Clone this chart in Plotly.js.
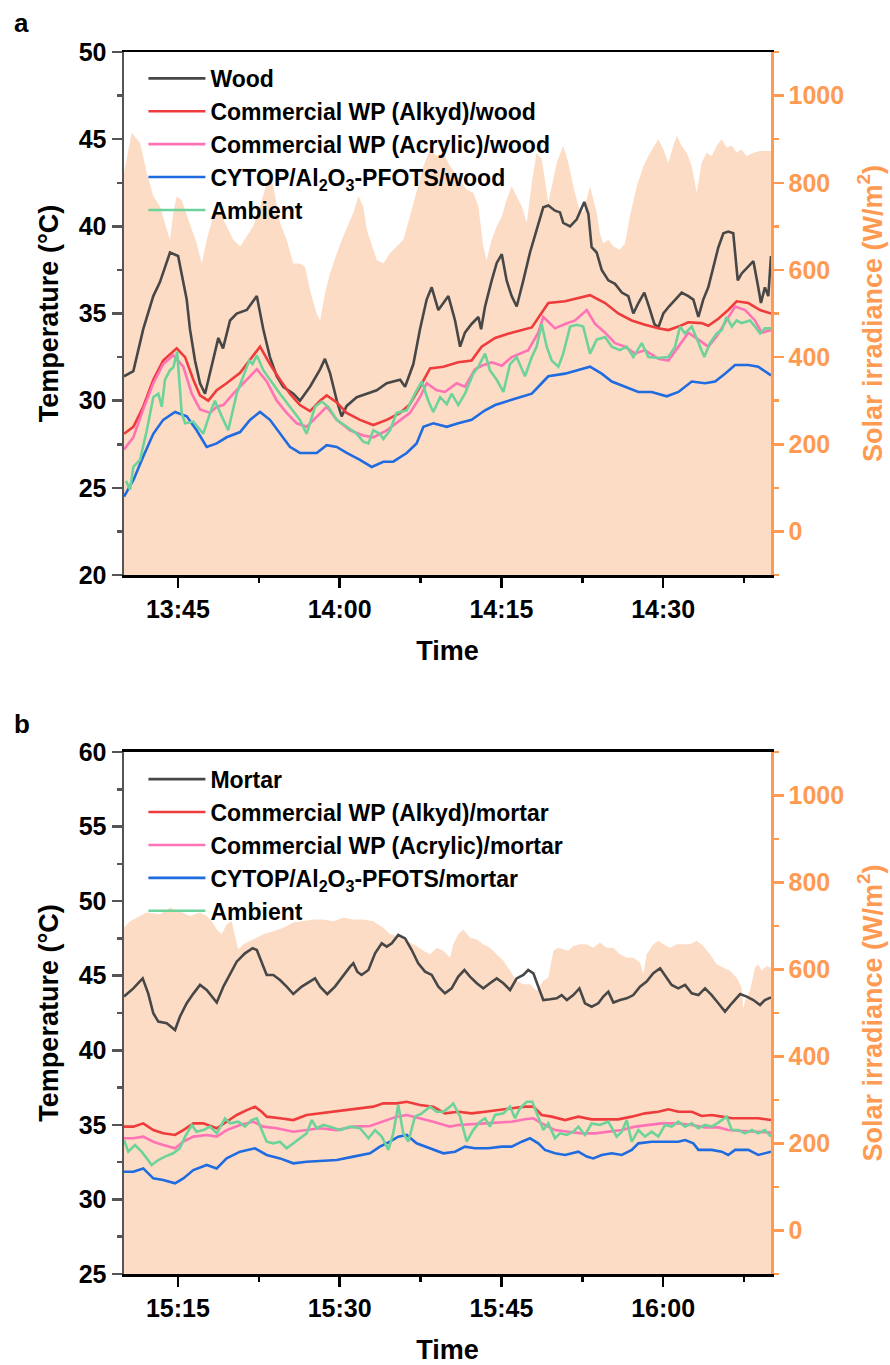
<!DOCTYPE html>
<html>
<head>
<meta charset="utf-8">
<script src="https://cdn.plot.ly/plotly-3.0.1.min.js"></script>
<style>html,body{margin:0;padding:0;background:#fff;}#chart{width:890px;height:1365px;}</style>
</head>
<body>
<div id="chart"></div>
<script>
// ---------------- Panel a (wood), minutes after 13:40 ----------------
const aWoodTime = [0,0.86,1.79,2.72,3.34,4.27,5.01,5.81,6.12,6.58,7.05,7.51,8.75,9.18,9.83,10.45,11.38,12.31,12.92,13.54,14.16,14.77,15.70,16.32,17.25,18.18,18.64,19.10,19.73,20.19,20.65,21.58,22.51,23.44,24.36,25.60,26.06,26.83,27.45,28.07,28.54,29.15,30.08,30.70,31.16,31.62,32.24,32.86,33.11,33.48,34.10,34.56,35.03,35.49,35.95,36.42,37.03,37.65,38.27,38.89,39.35,39.97,40.43,40.74,41.36,41.98,42.69,43.06,43.37,43.84,44.30,44.91,45.53,46.16,46.77,47.23,47.70,48.25,48.69,49.18,49.55,50.01,50.54,51.10,51.72,52.33,52.80,53.26,53.72,54.19,54.65,55.11,55.58,56.04,56.50,56.91,57.28,57.90,58.36,58.82,59.07,59.44,59.75,60.0];
const aWood = [31.4,31.7,34.1,36.0,36.8,38.5,38.3,35.8,34.1,32.3,31.0,30.4,33.6,33.0,34.6,35.0,35.2,36.0,34.1,32.5,31.4,30.8,30.4,30.0,30.8,31.8,32.4,31.6,30.0,29.1,29.7,30.2,30.4,30.6,31.0,31.2,30.8,32.1,34.1,35.8,36.5,35.2,36.0,34.6,33.1,33.9,34.4,34.8,34.1,35.4,36.9,37.9,38.4,36.9,36.0,35.4,36.9,38.5,39.8,41.1,41.2,40.9,40.8,40.2,40.0,40.4,41.4,40.7,38.8,38.5,37.5,36.9,36.7,36.2,36.0,35.0,35.6,36.2,35.4,34.4,34.2,35.0,35.4,35.8,36.2,36.0,35.8,34.8,35.8,36.5,37.7,38.8,39.6,39.7,39.6,36.9,37.3,37.7,38.0,36.5,35.6,36.5,36.0,38.3];

const aAlkydTime = [0,0.86,1.79,2.72,3.64,4.89,5.66,6.43,7.05,7.82,8.60,9.52,10.76,11.84,12.61,13.54,14.47,15.39,16.32,17.25,18.18,18.80,19.73,20.65,21.89,23.12,24.36,25.60,26.52,27.45,28.38,29.61,31.00,32.24,33.17,34.41,35.95,37.81,38.74,39.35,40.90,42.13,43.22,44.61,45.84,47.08,48.32,49.55,50.48,51.41,52.33,53.57,54.19,55.11,56.04,56.82,57.90,58.98,60];
const aAlkyd = [28.1,28.5,29.65,31.2,32.3,33.0,32.5,31.2,30.3,30.0,30.6,31.0,31.6,32.5,33.1,32.1,31.2,30.4,29.75,29.4,30.0,30.3,29.9,29.3,28.9,28.6,28.9,29.3,29.8,30.8,31.85,31.95,32.2,32.3,33.1,33.6,33.9,34.2,35.0,35.6,35.7,35.9,36.05,35.6,35.0,34.6,34.35,34.15,34.05,34.25,34.5,34.45,34.3,34.7,35.2,35.7,35.6,35.2,35.0];

const aAcrylicTime = [0,0.86,1.79,2.72,3.64,4.57,5.50,6.28,7.05,7.98,8.60,9.21,10.14,11.38,12.31,13.23,14.16,15.09,16.02,16.94,17.87,18.80,19.73,20.96,22.19,23.12,24.36,25.60,26.52,27.45,28.07,29.00,29.77,30.85,31.62,32.55,33.17,34.10,35.03,35.95,37.49,38.42,38.89,39.97,40.90,41.83,42.91,43.68,44.61,45.53,46.46,47.39,48.32,49.55,50.48,51.41,52.33,53.26,54.19,54.97,55.89,56.67,57.60,58.52,59.14,60];
const aAcrylic = [27.2,27.9,29.5,31.0,32.1,32.6,31.95,30.4,29.5,29.3,29.65,29.75,30.4,31.2,31.8,31.1,30.0,29.3,28.7,28.5,29.1,29.65,28.9,28.3,28.0,27.9,28.3,28.9,29.3,30.2,31.0,30.6,30.5,31.0,30.8,31.8,32.0,32.2,32.0,32.5,32.9,33.9,34.8,34.15,34.4,34.6,35.2,34.4,33.9,33.3,33.1,32.7,32.9,32.4,32.3,33.1,33.9,33.5,33.1,33.7,34.6,35.4,35.2,34.6,33.9,34.05];

const aCytopTime = [0,0.86,1.79,2.72,3.64,4.73,5.81,6.74,7.67,8.60,9.52,10.76,11.68,12.61,13.54,14.47,15.39,16.32,17.87,18.80,19.73,20.65,21.89,22.97,24.05,24.97,26.22,27.14,27.76,28.68,29.93,31.00,32.24,33.48,34.41,35.95,37.81,38.74,39.35,40.90,42.13,43.22,44.30,45.23,46.46,47.70,48.94,50.33,51.41,52.65,53.88,54.81,55.74,56.67,57.90,58.82,60];
const aCytop = [24.5,25.44,26.8,28.1,28.9,29.35,29.1,28.3,27.35,27.55,27.9,28.2,28.9,29.35,28.9,28.1,27.35,27.0,27.0,27.45,27.35,27.0,26.6,26.2,26.5,26.5,27.0,27.55,28.5,28.7,28.5,28.7,28.9,29.45,29.75,30.05,30.4,31.0,31.4,31.55,31.75,31.95,31.55,31.1,30.8,30.5,30.5,30.25,30.5,31.1,31.0,31.1,31.55,32.05,32.05,31.95,31.45];

const aAmbientTime = [0.19,0.56,0.86,1.48,2.11,2.72,3.18,3.50,3.80,4.27,4.57,4.94,5.35,5.66,6.43,7.35,7.98,8.44,9.06,9.67,10.45,11.22,11.62,11.92,12.31,12.92,13.54,14.47,15.39,16.32,16.94,17.71,18.33,18.95,19.73,20.65,21.58,22.19,22.66,23.12,23.74,24.05,24.67,25.29,26.22,26.99,27.61,28.22,28.68,29.31,29.93,30.39,31.00,31.62,32.39,32.86,33.48,33.94,34.56,35.18,35.80,36.42,37.19,37.81,38.27,38.74,39.20,39.66,40.28,40.74,41.36,41.98,42.59,43.22,43.84,44.61,45.23,45.99,46.61,47.23,48.01,48.63,49.55,50.48,51.10,51.56,52.02,52.65,53.26,53.81,54.34,54.97,55.43,55.89,56.36,56.82,57.28,58.05,58.52,58.98,59.44,60];
const aAmbient = [25.4,24.9,26.2,26.6,28.3,30.2,30.4,29.65,31.2,31.75,31.9,32.8,29.3,28.7,28.8,28.1,29.3,30.0,29.1,28.3,30.4,31.6,32.3,32.1,32.6,31.75,31.2,30.4,29.65,28.9,28.1,29.65,29.95,29.65,28.9,28.5,28.1,27.65,27.55,28.3,28.1,27.8,28.3,29.3,29.45,30.4,31.1,30.0,29.35,30.2,29.8,30.4,29.75,30.4,31.55,31.95,32.7,31.75,31.2,30.5,32.1,32.5,31.4,32.5,33.1,34.4,33.1,32.3,31.95,32.7,34.25,34.35,34.25,32.7,33.5,33.65,33.1,32.9,33.1,32.5,33.3,32.5,32.45,32.5,33.1,34.25,33.85,34.25,33.3,32.5,33.3,33.85,34.05,34.8,34.25,34.6,34.45,34.6,34.25,33.85,34.15,34.15];

const aSolarTime = [0,0.71,1.48,2.11,2.72,3.34,3.96,4.27,4.57,4.89,5.35,5.96,6.74,7.21,7.67,8.28,8.90,9.52,10.14,10.76,11.38,11.99,12.61,13.23,13.54,13.85,14.47,15.09,15.70,16.32,16.79,17.25,17.87,18.18,18.64,19.10,19.73,20.34,21.27,21.73,22.19,22.51,23.44,24.05,24.67,25.29,25.90,26.52,27.14,27.76,28.38,29.00,29.61,30.23,31.16,31.78,32.39,32.86,33.32,33.64,34.10,34.56,35.03,35.49,35.95,36.42,36.88,37.35,37.81,38.27,38.74,39.04,39.35,39.66,40.13,40.74,41.20,41.67,42.13,42.59,43.22,43.84,44.14,44.45,44.91,45.38,45.99,46.46,46.92,47.55,48.16,48.78,49.55,50.01,50.48,50.94,51.26,51.72,52.18,52.65,53.11,53.57,54.04,54.50,54.97,55.43,55.89,56.36,56.82,57.28,57.74,58.36,58.98,60];
const aSolar = [823,915,892,823,769,746,692,669,731,769,760,715,661,615,669,723,731,700,669,654,677,700,746,800,815,792,708,669,615,615,607,554,500,484,546,592,638,677,731,769,746,692,623,615,638,654,669,723,777,838,877,861,869,838,807,784,777,746,654,623,669,700,723,761,792,769,746,708,800,869,854,807,754,792,846,885,846,792,746,731,792,731,684,661,669,654,646,661,723,792,838,869,900,877,846,885,907,885,869,838,777,846,869,861,885,900,881,885,869,877,861,869,873,873];

// ---------------- Panel b (mortar), minutes after 15:10 ----------------
const bMortarTime = [0,0.86,1.73,2.25,2.72,3.18,3.96,4.73,5.19,5.81,6.43,7.05,7.67,8.13,8.60,9.21,9.83,10.45,11.22,11.94,12.31,12.77,13.23,13.85,14.47,15.09,15.70,16.48,17.25,17.71,18.18,18.85,19.57,20.34,20.96,21.27,21.64,22.04,22.66,23.28,23.90,24.36,24.83,25.44,26.06,26.68,27.29,27.91,28.54,29.15,29.77,30.39,31.00,31.56,32.09,32.71,33.32,33.94,34.56,35.18,35.80,36.42,37.03,37.49,37.96,38.42,38.89,39.51,40.13,40.59,41.06,41.67,42.23,42.75,43.37,43.99,44.45,44.91,45.38,46.00,46.62,47.23,47.85,48.47,49.09,49.71,50.17,50.79,51.40,52.03,52.65,53.26,53.88,54.50,55.11,55.74,56.36,57.13,57.75,58.36,58.98,59.44,60];
const bMortar = [43.6,44.15,44.82,43.8,42.48,41.92,41.81,41.36,42.25,43.15,43.8,44.38,44.04,43.6,43.2,44.27,45.16,45.94,46.5,46.84,46.72,45.83,45.05,45.05,44.71,44.27,43.77,44.27,44.6,44.82,44.27,43.77,44.27,45.05,45.61,45.83,45.27,45.05,45.38,46.5,47.17,46.95,47.17,47.73,47.5,46.72,45.83,45.27,45.05,44.27,43.82,44.15,44.94,45.38,44.94,44.49,44.15,44.49,44.82,44.49,44.04,44.82,45.05,45.38,45.16,44.27,43.37,43.42,43.48,43.7,43.37,43.7,44.15,43.15,42.92,43.15,43.6,43.93,43.2,43.37,43.48,43.7,44.27,44.6,45.16,45.5,45.05,44.38,44.15,44.38,43.82,43.7,44.15,43.7,43.15,42.59,43.15,43.77,43.6,43.37,43.04,43.37,43.55];

const bAlkydTime = [0,0.86,1.79,2.72,3.64,4.73,5.50,6.43,7.35,8.60,9.52,10.45,11.38,12.15,12.77,13.23,14.47,15.70,16.94,18.18,19.41,20.65,21.89,23.12,24.05,25.29,26.22,27.45,28.68,29.77,31.00,32.24,33.48,34.71,35.95,37.19,37.96,38.74,39.66,40.90,42.13,43.37,44.61,45.84,47.08,48.32,49.55,50.48,51.41,52.65,53.57,54.50,55.43,56.36,57.59,58.82,60];
const bAlkyd = [34.88,34.88,35.1,34.65,34.43,34.32,34.65,35.1,35.1,34.77,35.21,35.66,35.99,36.22,35.88,35.55,35.44,35.32,35.66,35.77,35.88,35.99,36.11,36.22,36.44,36.44,36.55,36.33,36.22,35.77,35.88,35.77,35.88,35.99,36.11,36.22,36.22,35.66,35.55,35.32,35.55,35.37,35.37,35.37,35.55,35.77,35.88,36.04,35.88,35.88,35.59,35.66,35.55,35.44,35.44,35.44,35.32];

const bAcrylicTime = [0,0.86,1.79,2.72,3.64,4.73,5.50,6.43,7.67,8.60,9.52,10.76,11.99,12.92,14.16,15.70,16.94,18.18,19.73,21.27,22.81,24.05,25.29,26.22,27.45,28.68,30.23,31.00,33.48,35.95,37.19,37.96,38.74,39.97,41.20,42.45,43.68,44.91,46.16,47.39,48.62,49.87,51.40,52.65,53.88,55.11,56.04,57.28,58.52,60];
const bAcrylic = [34.1,34.1,34.21,33.87,33.65,33.43,33.87,34.21,34.32,34.21,34.65,34.99,35.21,34.88,34.77,34.54,34.65,34.77,34.65,34.88,34.92,35.21,35.55,35.66,35.44,35.21,34.88,34.99,35.1,35.21,35.37,35.44,35.1,34.65,34.54,34.43,34.43,34.54,34.65,34.88,34.99,35.1,35.1,34.99,34.83,34.83,34.65,34.61,34.54,34.48];

const bCytopTime = [0,0.86,1.79,2.72,3.64,4.73,5.50,6.43,7.67,8.60,9.52,10.76,12.15,13.23,14.47,15.70,16.94,18.48,19.73,21.27,22.81,23.74,24.67,25.44,26.22,27.14,28.38,29.61,30.70,31.62,32.55,33.78,35.03,35.95,36.88,37.65,38.42,39.04,39.97,40.90,42.13,42.91,43.52,44.30,45.23,46.16,47.08,47.70,48.94,50.17,51.40,52.03,52.80,53.26,54.50,55.43,56.04,56.67,57.90,58.82,60];
const bCytop = [31.86,31.86,32.08,31.41,31.3,31.08,31.41,31.97,32.31,32.08,32.75,33.2,33.43,32.98,32.75,32.42,32.53,32.6,32.64,32.87,33.09,33.54,33.87,34.21,34.32,33.76,33.43,33.09,33.2,33.54,33.43,33.43,33.54,33.54,33.87,34.1,33.76,33.32,33.09,32.98,33.2,32.87,32.75,32.98,33.09,32.98,33.32,33.76,33.87,33.87,33.87,33.98,33.76,33.32,33.32,33.2,32.98,33.32,33.32,32.98,33.2];

const bAmbientTime = [0,0.40,1.02,1.64,2.11,2.57,3.18,3.80,4.57,5.19,5.66,6.28,6.74,7.35,7.98,8.60,9.37,9.83,10.60,11.22,11.84,12.31,12.77,13.23,13.85,14.47,15.09,15.70,16.32,16.94,17.41,17.87,18.48,19.10,20.03,20.96,21.89,22.66,23.28,23.90,24.51,24.97,25.44,25.90,26.37,26.99,27.61,28.38,29.00,29.61,30.23,30.54,31.16,31.78,32.39,33.01,33.48,33.94,34.41,35.18,35.80,36.26,36.72,37.35,37.86,38.42,38.89,39.35,39.97,40.43,41.06,41.67,42.13,42.75,43.37,44.14,44.91,45.69,46.16,46.62,47.08,47.70,48.32,48.94,49.55,50.17,50.79,51.40,52.03,52.65,53.26,53.88,54.50,55.11,55.89,56.36,56.97,57.59,58.21,58.82,59.44,60];
const bAmbient = [33.98,33.2,33.65,33.2,32.75,32.31,32.64,32.87,33.09,33.43,34.21,34.99,34.54,34.65,34.88,34.43,35.44,35.1,35.21,34.88,35.32,35.44,34.65,33.87,33.76,33.87,33.43,33.76,34.1,34.43,35.32,34.77,34.99,34.88,34.65,34.88,34.77,34.1,34.65,34.21,33.32,34.43,36.33,34.43,33.87,35.55,35.77,36.22,35.88,35.88,36.22,36.44,35.55,33.87,34.65,35.21,35.44,34.88,35.66,35.77,36.22,35.44,36.11,36.55,36.55,35.55,34.65,35.1,34.1,34.43,34.32,34.54,34.88,34.32,35.1,34.99,35.21,34.21,34.54,35.32,33.87,34.65,34.21,34.54,34.21,34.99,34.88,35.21,34.88,35.1,34.77,34.99,34.88,35.15,35.55,34.65,34.65,34.43,34.65,34.43,34.65,34.21];

const bSolarTime = [0,0.56,1.48,2.11,3.34,4.27,5.19,6.12,7.05,7.67,8.13,8.60,9.06,9.52,9.99,10.29,10.60,11.06,11.99,12.92,13.85,14.77,15.70,16.63,17.56,18.48,19.41,20.34,21.27,22.19,23.12,24.05,24.67,25.29,25.90,26.52,27.14,27.76,28.38,29.00,29.61,30.23,30.54,31.00,31.47,32.09,32.71,33.32,33.94,34.56,35.18,35.80,36.42,37.03,37.65,38.27,38.89,39.35,39.81,40.28,40.74,41.20,41.67,42.29,42.91,43.52,44.14,44.76,45.38,45.99,46.62,47.23,47.85,48.16,48.47,49.09,49.55,50.01,50.63,51.26,51.87,52.49,53.11,53.72,54.34,54.97,55.58,56.20,56.82,57.28,57.43,57.59,58.05,58.52,58.82,59.14,59.60,60];
const bSolar = [696,711,723,731,727,742,734,723,731,723,711,692,681,704,711,681,646,658,669,681,688,696,708,711,715,715,711,719,715,715,711,696,681,677,669,662,654,643,635,650,643,627,658,681,692,673,669,658,650,635,620,597,574,566,566,551,574,581,643,650,646,643,654,658,658,650,662,650,650,635,627,627,616,589,635,658,666,658,650,658,658,658,666,654,635,612,604,597,581,558,509,528,551,604,612,597,608,604];

// ---------------- labels ----------------
const seriesNamesA = ['Wood','Commercial WP (Alkyd)/wood','Commercial WP (Acrylic)/wood','CYTOP/Al<sub>2</sub>O<sub>3</sub>-PFOTS/wood','Ambient'];
const seriesNamesB = ['Mortar','Commercial WP (Alkyd)/mortar','Commercial WP (Acrylic)/mortar','CYTOP/Al<sub>2</sub>O<sub>3</sub>-PFOTS/mortar','Ambient'];
const timeTicksA = ['13:45','14:00','14:15','14:30'];
const timeTicksB = ['15:15','15:30','15:45','16:00'];

// ---------------- styling ----------------
const FONT = 'Arial, "Liberation Sans", sans-serif';
const COLORS = ['#474747','#EE3B3B','#FF72B6','#1F6BE0','#6DD39B'];
const ORANGE = '#FF9A52';
const FILL = '#FDDCC5';
const AXGREY = '#555555';
const DAY = '2024-06-01';
const START_A = 13*60+40, START_B = 15*60+10;

function pad(n){return (n<10?'0':'')+n;}
function clock(startMin, t){
  const sec = Math.round((startMin + t)*60);
  return DAY+' '+pad(Math.floor(sec/3600))+':'+pad(Math.floor((sec%3600)/60))+':'+pad(sec%60);
}
function hm(s){const p=s.split(':');return (+p[0])*60+(+p[1]);}

const traces = [];
function addPanel(start, xa, yIrr, yT, legendId, solarT, solarV, series, names){
  const xs = solarT.map(t=>clock(start,t));
  traces.push({x:[xs[0], xs[xs.length-1]], y:[-100,-100], xaxis:xa, yaxis:yIrr, mode:'lines',
    line:{width:0,color:FILL}, showlegend:false, hoverinfo:'skip', legend:legendId});
  traces.push({x:xs, y:solarV, xaxis:xa, yaxis:yIrr, mode:'lines', fill:'tonexty',
    fillcolor:FILL, line:{width:0,color:FILL}, showlegend:false, name:'Solar irradiance', legend:legendId});
  series.forEach((s,i)=>{
    traces.push({x:s[0].map(t=>clock(start,t)), y:s[1], xaxis:xa, yaxis:yT, mode:'lines',
      name:names[i], line:{color:COLORS[i], width:2.6}, legend:legendId});
  });
}
addPanel(START_A,'x','y','y2','legend',aSolarTime,aSolar,
  [[aWoodTime,aWood],[aAlkydTime,aAlkyd],[aAcrylicTime,aAcrylic],[aCytopTime,aCytop],[aAmbientTime,aAmbient]], seriesNamesA);
addPanel(START_B,'x2','y3','y4','legend2',bSolarTime,bSolar,
  [[bMortarTime,bMortar],[bAlkydTime,bAlkyd],[bAcrylicTime,bAcrylic],[bCytopTime,bCytop],[bAmbientTime,bAmbient]], seriesNamesB);

const tickFont = {family:FONT, size:25, color:'#000', weight:'bold'};
const titleFont = {family:FONT, size:27, color:'#000', weight:'bold'};

function xAxis(anchor, start, ticks){
  return {anchor:anchor, domain:[0,1], type:'date',
    range:[clock(start,0), clock(start,60)],
    tickmode:'array', tickvals:ticks.map(s=>clock(hm(s),0)), ticktext:ticks,
    ticks:'outside', ticklen:10, tickwidth:2.5, tickcolor:'#000',
    minor:{ticks:'outside', ticklen:5, tickwidth:2.5, tickcolor:'#000', dtick:450000, tick0:clock(hm(ticks[0]),0), showgrid:false},
    showline:true, linecolor:'#000', linewidth:2.5, mirror:true,
    showgrid:false, zeroline:false, tickfont:tickFont,
    title:{text:'Time', font:titleFont, standoff:20}};
}
function irrAxis(domain, anchor){
  return {domain:domain, anchor:anchor, side:'right', range:[-100,1100],
    tickmode:'linear', tick0:0, dtick:200,
    ticks:'outside', ticklen:10, tickwidth:2.5, tickcolor:ORANGE,
    minor:{ticks:'outside', ticklen:5, tickwidth:2.5, tickcolor:ORANGE, dtick:100, tick0:0, showgrid:false},
    showline:true, linecolor:ORANGE, linewidth:2.5,
    showgrid:false, zeroline:false,
    tickfont:{family:FONT, size:25, color:ORANGE, weight:'bold'},
    title:{text:'Solar irradiance (W/m<sup>2</sup>)', font:{family:FONT, size:27, color:ORANGE, weight:'bold'}, standoff:20}};
}
function tempAxis(over, anchor, range){
  return {overlaying:over, anchor:anchor, side:'left', range:range,
    tickmode:'linear', tick0:range[0], dtick:5,
    ticks:'outside', ticklen:10, tickwidth:2.5, tickcolor:AXGREY,
    minor:{ticks:'outside', ticklen:5, tickwidth:2.5, tickcolor:AXGREY, dtick:2.5, tick0:range[0], showgrid:false},
    showline:true, linecolor:AXGREY, linewidth:2.5,
    showgrid:false, zeroline:false, tickfont:tickFont,
    title:{text:'Temperature (°C)', font:titleFont, standoff:12}};
}

const legendBase = {xanchor:'left', yanchor:'top', bgcolor:'rgba(0,0,0,0)', borderwidth:0, traceorder:'normal',
  font:{family:FONT, size:23, color:'#000', weight:'bold'}, itemwidth:57, tracegroupgap:0};

const layout = {
  width:890, height:1365, margin:{l:124, r:119, t:52, b:91},
  paper_bgcolor:'#fff', plot_bgcolor:'rgba(0,0,0,0)', showlegend:true,
  font:{family:FONT},
  xaxis: xAxis('y', START_A, timeTicksA),
  xaxis2: xAxis('y3', START_B, timeTicksB),
  yaxis: irrAxis([0.572,1],'x'),
  yaxis2: tempAxis('y','x',[20,50]),
  yaxis3: irrAxis([0,0.4272],'x2'),
  yaxis4: tempAxis('y3','x2',[25,60]),
  legend: Object.assign({x:0.03, y:0.996}, legendBase),
  legend2: Object.assign({x:0.03, y:0.4225}, legendBase),
  annotations:[
    {text:'a', xref:'paper', yref:'paper', x:-0.173, y:1.0237, xanchor:'left', yanchor:'middle', showarrow:false, font:{family:FONT, size:26, color:'#000', weight:'bold'}},
    {text:'b', xref:'paper', yref:'paper', x:-0.173, y:0.4501, xanchor:'left', yanchor:'middle', showarrow:false, font:{family:FONT, size:26, color:'#000', weight:'bold'}}
  ]
};

Plotly.newPlot('chart', traces, layout, {staticPlot:true, displayModeBar:false});
</script>
</body>
</html>
